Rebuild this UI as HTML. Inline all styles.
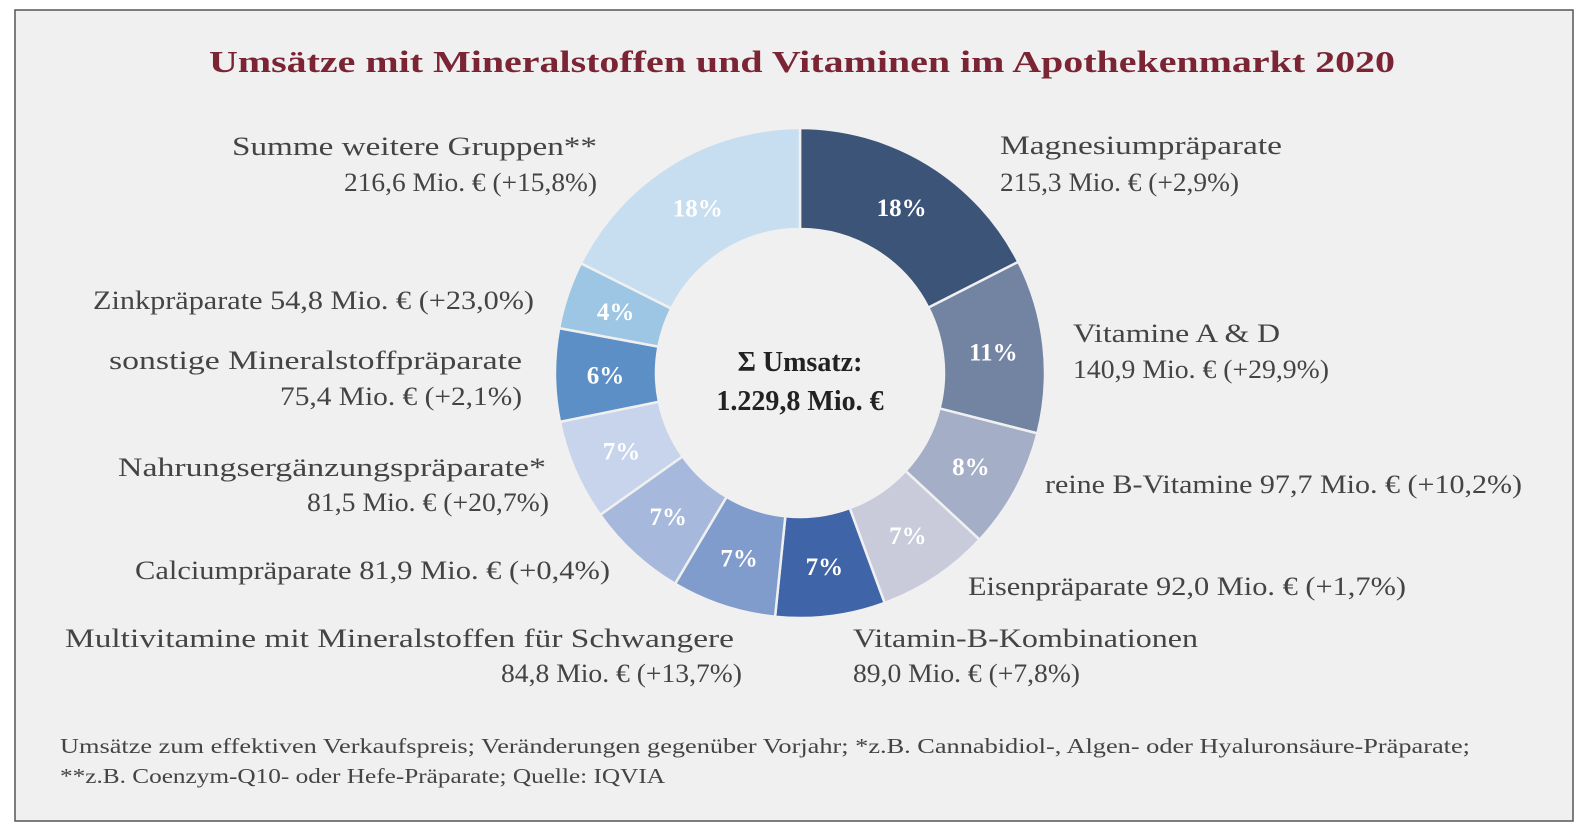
<!DOCTYPE html>
<html><head><meta charset="utf-8">
<style>
html,body{margin:0;padding:0;background:#fff;}
svg{display:block;}
text{font-family:"Liberation Serif","DejaVu Serif",serif;}
.lbl{font-size:26px;fill:#444;}
.ft{font-size:21px;fill:#444;}
.pct{font-size:25px;font-weight:bold;fill:#fff;}
</style></head>
<body>
<svg id="chart" width="1590" height="836" viewBox="0 0 1590 836" xmlns="http://www.w3.org/2000/svg">
<rect x="0" y="0" width="1590" height="836" fill="#ffffff"/>
<rect x="15" y="10" width="1558" height="811" fill="#f0f0f0" stroke="#555" stroke-width="1.5"/>
<text x="209" y="72" textLength="1186" lengthAdjust="spacingAndGlyphs" style="font-size:31px;font-weight:bold;fill:#7b2434">Umsätze mit Mineralstoffen und Vitaminen im Apothekenmarkt 2020</text>
<g id="slices"></g>
<g id="pcts"></g>
<text x="800" y="371" text-anchor="middle" style="font-size:28px;font-weight:bold;fill:#222">Σ Umsatz:</text>
<text x="800" y="410" text-anchor="middle" style="font-size:28px;font-weight:bold;fill:#222">1.229,8 Mio. €</text>

<g>
<text class="lbl" x="232" y="155" textLength="365" lengthAdjust="spacingAndGlyphs">Summe weitere Gruppen**</text>
<text class="lbl" x="344" y="191" textLength="253" lengthAdjust="spacingAndGlyphs">216,6 Mio. € (+15,8%)</text>
<text class="lbl" x="1000" y="154" textLength="282" lengthAdjust="spacingAndGlyphs">Magnesiumpräparate</text>
<text class="lbl" x="1000" y="191" textLength="239" lengthAdjust="spacingAndGlyphs">215,3 Mio. € (+2,9%)</text>
<text class="lbl" x="1073" y="342" textLength="207" lengthAdjust="spacingAndGlyphs">Vitamine A &amp; D</text>
<text class="lbl" x="1073" y="378" textLength="256" lengthAdjust="spacingAndGlyphs">140,9 Mio. € (+29,9%)</text>
<text class="lbl" x="1045" y="493" textLength="477" lengthAdjust="spacingAndGlyphs">reine B-Vitamine 97,7 Mio. € (+10,2%)</text>
<text class="lbl" x="968" y="595" textLength="438" lengthAdjust="spacingAndGlyphs">Eisenpräparate 92,0 Mio. € (+1,7%)</text>
<text class="lbl" x="853" y="647" textLength="345" lengthAdjust="spacingAndGlyphs">Vitamin-B-Kombinationen</text>
<text class="lbl" x="853" y="682" textLength="227" lengthAdjust="spacingAndGlyphs">89,0 Mio. € (+7,8%)</text>
<text class="lbl" x="65" y="647" textLength="669" lengthAdjust="spacingAndGlyphs">Multivitamine mit Mineralstoffen für Schwangere</text>
<text class="lbl" x="501" y="682" textLength="241" lengthAdjust="spacingAndGlyphs">84,8 Mio. € (+13,7%)</text>
<text class="lbl" x="135" y="579" textLength="475" lengthAdjust="spacingAndGlyphs">Calciumpräparate 81,9 Mio. € (+0,4%)</text>
<text class="lbl" x="118" y="476" textLength="428" lengthAdjust="spacingAndGlyphs">Nahrungsergänzungspräparate*</text>
<text class="lbl" x="307" y="511" textLength="242" lengthAdjust="spacingAndGlyphs">81,5 Mio. € (+20,7%)</text>
<text class="lbl" x="109" y="369" textLength="413" lengthAdjust="spacingAndGlyphs">sonstige Mineralstoffpräparate</text>
<text class="lbl" x="280" y="405" textLength="242" lengthAdjust="spacingAndGlyphs">75,4 Mio. € (+2,1%)</text>
<text class="lbl" x="93" y="309" textLength="441" lengthAdjust="spacingAndGlyphs">Zinkpräparate 54,8 Mio. € (+23,0%)</text>
</g>
<text class="ft" x="60" y="753" textLength="1410" lengthAdjust="spacingAndGlyphs">Umsätze zum effektiven Verkaufspreis; Veränderungen gegenüber Vorjahr; *z.B. Cannabidiol-, Algen- oder Hyaluronsäure-Präparate;</text>
<text class="ft" x="60" y="783" textLength="605" lengthAdjust="spacingAndGlyphs">**z.B. Coenzym-Q10- oder Hefe-Präparate;  Quelle: IQVIA</text>
</svg>
<script>
const categories = ["Magnesiumpräparate","Vitamine A & D","reine B-Vitamine","Eisenpräparate","Vitamin-B-Kombinationen","Multivitamine für Schwangere","Calciumpräparate","Nahrungsergänzungspräparate","sonstige Mineralstoffpräparate","Zinkpräparate","Summe weitere Gruppen"];
const values = [215.3,140.9,97.7,92.0,89.0,84.8,81.9,81.5,75.4,54.8,216.6];
const pctLabels = ["18%","11%","8%","7%","7%","7%","7%","7%","6%","4%","18%"];
const colors = ["#3b5478","#7383a2","#a5aec7","#c9cbdb","#3f65a8","#7f9ccc","#a7b8dd","#c8d4eb","#5c8fc6","#9dc6e5","#c7ddf0"];

const NS = "http://www.w3.org/2000/svg";
const cx = 800, cy = 373, R = 245, r = 144;
const total = values.reduce((a,b)=>a+b,0);
function angleOf(v){ return v/total*2*Math.PI; }
function pt(a, rad){ return [cx + rad*Math.sin(a), cy - rad*Math.cos(a)]; }
const gS = document.getElementById('slices');
const gP = document.getElementById('pcts');
let a0 = 0;
values.forEach((v,i)=>{
  const a1 = a0 + angleOf(v);
  const large = (a1-a0) > Math.PI ? 1 : 0;
  const [x0,y0] = pt(a0,R), [x1,y1] = pt(a1,R), [x2,y2] = pt(a1,r), [x3,y3] = pt(a0,r);
  const p = document.createElementNS(NS,'path');
  p.setAttribute('d',`M${x0},${y0} A${R},${R} 0 ${large} 1 ${x1},${y1} L${x2},${y2} A${r},${r} 0 ${large} 0 ${x3},${y3} Z`);
  p.setAttribute('fill',colors[i]);
  p.setAttribute('stroke','#f0f0f0');
  p.setAttribute('stroke-width','2.5');
  
  
  gS.appendChild(p);
  const am = (a0+a1)/2;
  const [tx,ty] = pt(am,(R+r)/2);
  const t = document.createElementNS(NS,'text');
  t.setAttribute('x',tx); t.setAttribute('y',ty+9);
  t.setAttribute('text-anchor','middle');
  t.setAttribute('class','pct');
  
  
  t.textContent = pctLabels[i];
  gP.appendChild(t);
  a0 = a1;
});
</script>
</body></html>
